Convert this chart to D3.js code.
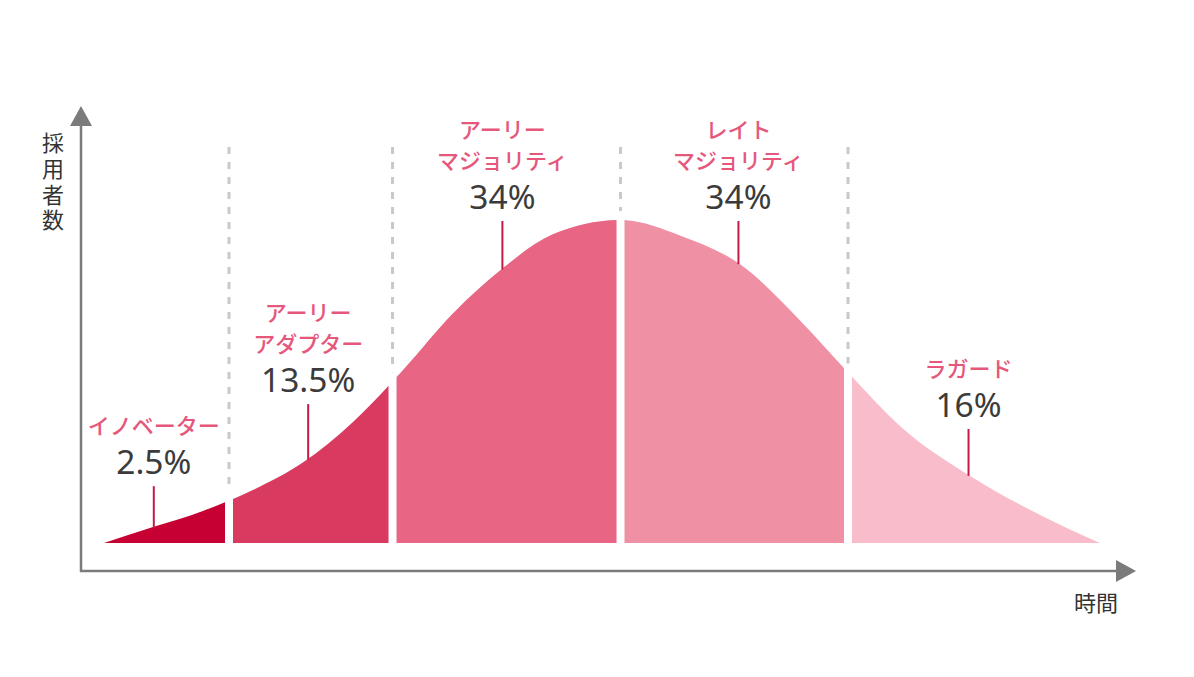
<!DOCTYPE html>
<html><head><meta charset="utf-8">
<script src="https://cdn.jsdelivr.net/npm/d3@7"></script>
<style>html,body{margin:0;padding:0;background:#fff;} svg{display:block}</style>
</head><body><svg id="c" width="1194" height="677"></svg>
<script>
// ---- data ----
const categoryNames = [["イノベーター"], ["アーリー", "アダプター"], ["アーリー", "マジョリティ"], ["レイト", "マジョリティ"], ["ラガード"]];
const shareLabels = ["2.5%", "13.5%", "34%", "34%", "16%"];
const shares = [2.5, 13.5, 34, 34, 16];
const segmentBreaks = [12.55, 28.97, 51.86, 74.70];           // time units (0-100)
const curveTime  = [0, 5, 10, 15, 20, 25, 30, 35, 40, 45, 51.8, 58, 64, 70, 75, 80, 87, 93, 100];
const curveCount = [0, 5, 10, 16.5, 25, 37.5, 53.5, 71, 85, 95.5, 100, 95, 86, 68.5, 51.8, 36, 20.7, 10.2, 0];
const leaderTime = [5.0, 20.5, 40.0, 63.7, 86.8];
const leaderTop  = [17.6, 43.0, 99.7, 99.7, 35.3];
const yTitle = "採用者数";
const xTitle = "時間";

// ---- style / layout ----
const segColors = ["#c70033", "#d93a5f", "#e86583", "#ef90a4", "#f8bccb"];
const nameColor = "#e5587c", pctColor = "#3b3b3b", leaderColor = "#c41a44", axisColor = "#7b7b7b";
const jp = "'Noto Sans CJK JP','Noto Sans',sans-serif";

const svg = d3.select("#c");
const x = d3.scaleLinear().domain([0, 100]).range([104, 1100]);
const y = d3.scaleLinear().domain([0, 100]).range([543, 220]);
const origin = {x: 81, y: 571};

const pts = curveTime.map((t, i) => [t, curveCount[i]]);
const curveFactory = d3.curveMonotoneX;
const area = d3.area().x(d => x(d[0])).y0(y(0)).y1(d => y(d[1])).curve(curveFactory);

// helper path to read the drawn curve height at any x
const probe = svg.append("path").attr("d", d3.line().x(d => x(d[0])).y(d => y(d[1])).curve(curveFactory)(pts))
  .attr("fill", "none").attr("stroke", "none");
const probeNode = probe.node();
const probeLen = probeNode.getTotalLength();
function curveYAt(px) {
  let lo = 0, hi = probeLen;
  for (let k = 0; k < 40; k++) {
    const mid = (lo + hi) / 2;
    if (probeNode.getPointAtLength(mid).x < px) lo = mid; else hi = mid;
  }
  return probeNode.getPointAtLength((lo + hi) / 2).y;
}

const edges = [0, ...segmentBreaks, 100];
const gap = 8;
const defs = svg.append("defs");
shares.forEach((s, i) => {
  const x0 = i === 0 ? x(0) - 2 : x(edges[i]) + gap / 2;
  const x1 = i === shares.length - 1 ? x(100) + 2 : x(edges[i + 1]) - gap / 2;
  defs.append("clipPath").attr("id", "seg" + i)
    .append("rect").attr("x", x0).attr("y", 0).attr("width", x1 - x0).attr("height", 677);
});

svg.append("g").selectAll("path").data(shares).join("path")
  .attr("d", area(pts))
  .attr("fill", (d, i) => segColors[i])
  .attr("clip-path", (d, i) => `url(#seg${i})`);

// dashed boundaries
svg.append("g").selectAll("line").data(segmentBreaks).join("line")
  .attr("x1", d => x(d)).attr("x2", d => x(d))
  .attr("y1", 147).attr("y2", d => curveYAt(x(d)) - 9)
  .attr("stroke", "#c9c9c9").attr("stroke-width", 3).attr("stroke-dasharray", "7,8");

// axes
const ax = svg.append("g").attr("fill", axisColor).attr("stroke", axisColor);
ax.append("line").attr("x1", origin.x).attr("x2", origin.x).attr("y1", origin.y + 1).attr("y2", 122).attr("stroke-width", 2.5);
ax.append("path").attr("stroke", "none").attr("d", `M${origin.x},106 L${origin.x - 11},126 L${origin.x + 11},126 Z`);
ax.append("line").attr("x1", origin.x - 1).attr("x2", 1120).attr("y1", origin.y).attr("y2", origin.y).attr("stroke-width", 2.5);
ax.append("path").attr("stroke", "none").attr("d", `M1136,${origin.y} L1116,${origin.y - 11} L1116,${origin.y + 11} Z`);

// axis titles
svg.append("text").attr("x", 53).attr("y", 132)
  .attr("writing-mode", "vertical-rl").style("text-orientation", "upright")
  .attr("letter-spacing", 3.7)
  .attr("font-family", jp).attr("font-size", 22).attr("fill", "#333").text(yTitle);
svg.append("text").attr("x", 1096).attr("y", 611).attr("text-anchor", "middle")
  .attr("font-family", jp).attr("font-size", 22).attr("fill", "#333").text(xTitle);

// labels
const lg = svg.append("g");
leaderTime.forEach((t, i) => {
  const lx = x(t);
  const top = y(leaderTop[i]);
  const bot = curveYAt(lx);
  lg.append("line").attr("x1", lx).attr("x2", lx).attr("y1", top).attr("y2", bot + 1)
    .attr("stroke", leaderColor).attr("stroke-width", 2);
  const pb = top - 12;
  lg.append("text").attr("x", lx).attr("y", pb).attr("text-anchor", "middle")
    .attr("font-family", "'Noto Sans',sans-serif").attr("font-size", 33.5).attr("fill", pctColor)
    .text(shareLabels[i]);
  const lines = categoryNames[i];
  lines.forEach((ln, j) => {
    const by = pb - 40 - (lines.length - 1 - j) * 31;
    lg.append("text").attr("x", lx).attr("y", by).attr("text-anchor", "middle")
      .attr("font-family", jp).attr("font-weight", 500).attr("font-size", 22).attr("fill", nameColor)
      .text(ln);
  });
});
</script></body></html>
